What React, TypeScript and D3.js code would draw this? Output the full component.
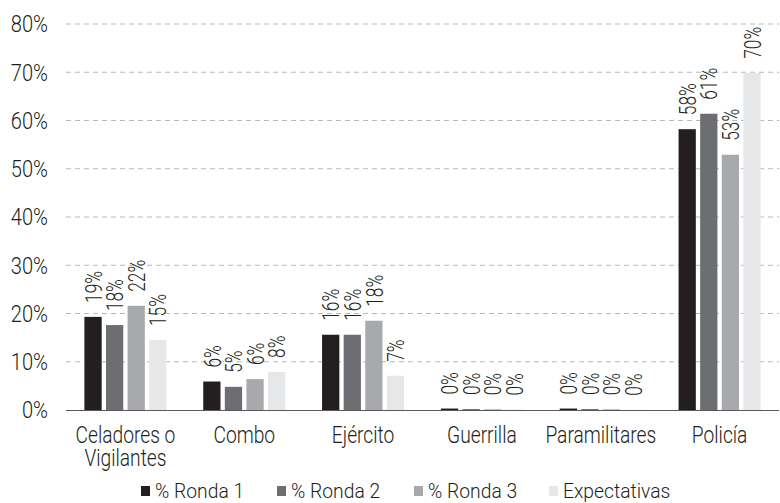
import React, { useRef, useEffect } from "react";
import * as d3 from "d3";

// data
const categories = ["Celadores o|Vigilantes", "Combo", "Ejército", "Guerrilla", "Paramilitares", "Policía"];
const seriesNames = ["% Ronda 1", "% Ronda 2", "% Ronda 3", "Expectativas"];
const ronda1 = [19.3, 5.9, 15.6, 0.3, 0.3, 58.2];
const ronda2 = [17.6, 4.8, 15.6, 0.2, 0.2, 61.4];
const ronda3 = [21.6, 6.4, 18.5, 0.15, 0.15, 52.9];
const expectativas = [14.5, 7.9, 7.1, 0.1, 0.05, 69.9];
const labels = [
  ["19%", "6%", "16%", "0%", "0%", "58%"],
  ["18%", "5%", "16%", "0%", "0%", "61%"],
  ["22%", "6%", "18%", "0%", "0%", "53%"],
  ["15%", "8%", "7%", "0%", "0%", "70%"],
];
const yTicks = [0, 10, 20, 30, 40, 50, 60, 70, 80];
const colors = ["#231f20", "#6d6e71", "#a7a9ac", "#e6e7e8"];

const W = 780;
const H = 503;
const FONT = "Roboto, 'Liberation Sans', Arial, sans-serif";
const WEIGHT = 300;
const NARROW = 0.84; // condensed look, squeeze text horizontally

const App = () => {
  const ref = useRef<SVGSVGElement>(null);

  useEffect(() => {
    const svg = d3.select(ref.current);
    svg.selectAll("*").remove();

    const series = [ronda1, ronda2, ronda3, expectativas];
    const margin = { left: 66, right: 1, top: 24, bottom: 93 };

    const x = d3
      .scaleBand()
      .domain(categories)
      .range([margin.left, W - margin.right]);
    const inner = d3
      .scaleBand()
      .domain(seriesNames)
      .range([18.4, x.bandwidth() - 18.4])
      .paddingInner(0.2);
    const y = d3
      .scaleLinear()
      .domain([0, 80])
      .range([H - margin.bottom, margin.top]);

    // gridlines
    svg
      .append("g")
      .selectAll("line")
      .data(yTicks.filter((d) => d > 0))
      .join("line")
      .attr("x1", margin.left)
      .attr("x2", W - margin.right)
      .attr("y1", (d) => y(d))
      .attr("y2", (d) => y(d))
      .attr("stroke", "#b8b9bb")
      .attr("stroke-dasharray", "5,4");

    // y labels
    svg
      .append("g")
      .selectAll("text")
      .data(yTicks)
      .join("text")
      .attr("transform", (d) => `translate(48,${y(d)}) scale(${NARROW},1)`)
      .attr("dy", "0.35em")
      .attr("text-anchor", "end")
      .attr("font-family", FONT)
      .attr("font-weight", WEIGHT)
      .attr("font-size", 24)
      .attr("fill", "#231f20")
      .text((d) => d + "%");

    // bars
    series.forEach((vals, si) => {
      const g = svg.append("g");
      g.selectAll("rect")
        .data(vals)
        .join("rect")
        .attr("x", (d, i) => x(categories[i])! + inner(seriesNames[si])!)
        .attr("y", (d) => y(d))
        .attr("width", inner.bandwidth())
        .attr("height", (d) => y(0) - y(d))
        .attr("fill", colors[si]);

      g.selectAll("text")
        .data(vals)
        .join("text")
        .attr("transform", (d, i) => {
          const cx = x(categories[i])! + inner(seriesNames[si])! + inner.bandwidth() / 2;
          return `translate(${cx},${y(d) - 14}) rotate(-90) scale(0.72,1)`;
        })
        .attr("dy", "0.36em")
        .attr("font-family", FONT)
        .attr("font-weight", WEIGHT)
        .attr("font-size", 24)
        .attr("fill", "#231f20")
        .text((d, i) => labels[si][i]);
    });

    // axis line
    svg
      .append("line")
      .attr("x1", margin.left)
      .attr("x2", W - margin.right)
      .attr("y1", y(0) + 0.5)
      .attr("y2", y(0) + 0.5)
      .attr("stroke", "#595959")
      .attr("stroke-width", 1.2);

    // category labels (two lines for the first one)
    const cat = svg
      .append("g")
      .selectAll("text")
      .data(categories)
      .join("text")
      .attr("transform", (d) => `translate(${x(d)! + x.bandwidth() / 2},443) scale(0.8,1)`)
      .attr("text-anchor", "middle")
      .attr("font-family", FONT)
      .attr("font-weight", WEIGHT)
      .attr("font-size", 24)
      .attr("fill", "#231f20");
    cat
      .selectAll("tspan")
      .data((d) => d.split("|"))
      .join("tspan")
      .attr("x", 0)
      .attr("dy", (d, i) => (i === 0 ? 0 : 23))
      .text((d) => d);

    // legend
    const legendX = [141, 277, 414, 549];
    const lg = svg
      .append("g")
      .selectAll("g")
      .data(seriesNames)
      .join("g")
      .attr("transform", (d, i) => `translate(${legendX[i]},486)`);
    lg.append("rect")
      .attr("width", 9)
      .attr("height", 10)
      .attr("fill", (d, i) => colors[i]);
    lg.append("text")
      .attr("transform", `translate(14,12) scale(0.92,1)`)
      .attr("font-family", FONT)
      .attr("font-weight", WEIGHT)
      .attr("font-size", 21)
      .attr("fill", "#231f20")
      .text((d) => d);
  }, []);

  return (
    <svg
      ref={ref}
      width={W}
      height={H}
      style={{ position: "absolute", left: 0, top: 0, background: "#fff" }}
    ></svg>
  );
};

export default App;
